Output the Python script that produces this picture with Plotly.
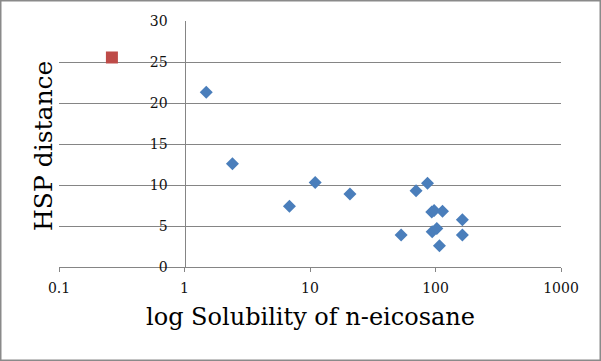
import plotly.graph_objects as go

# Data
solubility = [1.49, 2.41, 6.86, 11.0, 20.8, 53.2, 70.0, 86.4, 93.4, 97.5, 113.7, 94.1, 102.4, 107.5, 163.8, 163.8]
hsp_distance = [21.3, 12.6, 7.4, 10.3, 8.9, 3.9, 9.3, 10.2, 6.7, 6.9, 6.8, 4.3, 4.7, 2.6, 5.75, 3.9]
outlier_x = [0.264]
outlier_y = [25.55]
x_tick_vals = [0.1, 1, 10, 100, 1000]
x_tick_text = ["0.1", "1", "10", "100", "1000"]
y_tick_vals = [0, 5, 10, 15, 20, 25, 30]

FONT = "DejaVu Serif"
GRID = "#858585"

fig = go.Figure()
fig.add_trace(go.Scatter(
    x=solubility, y=hsp_distance, mode="markers",
    marker=dict(symbol="diamond", size=10, color="#4A7EBB", line=dict(width=0)),
    showlegend=False, cliponaxis=False,
))
fig.add_trace(go.Scatter(
    x=outlier_x, y=outlier_y, mode="markers",
    marker=dict(symbol="square", size=12, color="#BE4B48", line=dict(width=0)),
    showlegend=False, cliponaxis=False,
))

L, R, T, B = 59, 40, 21, 94
W, H = 601, 361
pw, ph = W - L - R, H - T - B


def px_x(px):
    return (px - L) / pw


def px_y(py):
    return (H - B - py) / ph


fig.update_layout(
    width=W, height=H,
    margin=dict(l=L, r=R, t=T, b=B, pad=0),
    paper_bgcolor="white", plot_bgcolor="white",
    font=dict(family=FONT, size=14, color="#111111"),
    xaxis=dict(
        type="log", range=[-1, 3],
        tickvals=x_tick_vals, ticktext=x_tick_text,
        showgrid=False, zeroline=False,
        showline=True, linecolor=GRID, linewidth=1,
        ticks="outside", ticklen=4, tickcolor=GRID, tickwidth=1,
        ticklabelstandoff=4,
        tickfont=dict(family=FONT, size=14, color="#111111"),
    ),
    yaxis=dict(
        range=[0, 30], tickvals=y_tick_vals,
        anchor="free", position=0.25,
        showgrid=True, gridcolor=GRID, gridwidth=1,
        zeroline=False,
        showline=True, linecolor=GRID, linewidth=1,
        ticks="", ticklabelstandoff=14,
        tickfont=dict(family=FONT, size=14, color="#111111"),
    ),
    annotations=[
        dict(text="log Solubility of n-eicosane", xref="paper", yref="paper",
             x=0.5, y=px_y(317), xanchor="center", yanchor="middle",
             showarrow=False, font=dict(family=FONT, size=24, color="#000000")),
        dict(text="HSP distance", xref="paper", yref="paper",
             x=px_x(43), y=px_y(146), xanchor="center", yanchor="middle",
             textangle=-90,
             showarrow=False, font=dict(family=FONT, size=25, color="#000000")),
    ],
    shapes=[
        dict(type="rect", xref="paper", yref="paper",
             x0=px_x(0.75), x1=px_x(W - 0.75),
             y0=px_y(H - 0.75), y1=px_y(0.75),
             line=dict(color="#8a8a8a", width=1.5), layer="above"),
    ],
)

fig.write_html("out.html", config={"displayModeBar": False},
               post_script="document.body.style.margin='0';document.body.style.padding='0';")
